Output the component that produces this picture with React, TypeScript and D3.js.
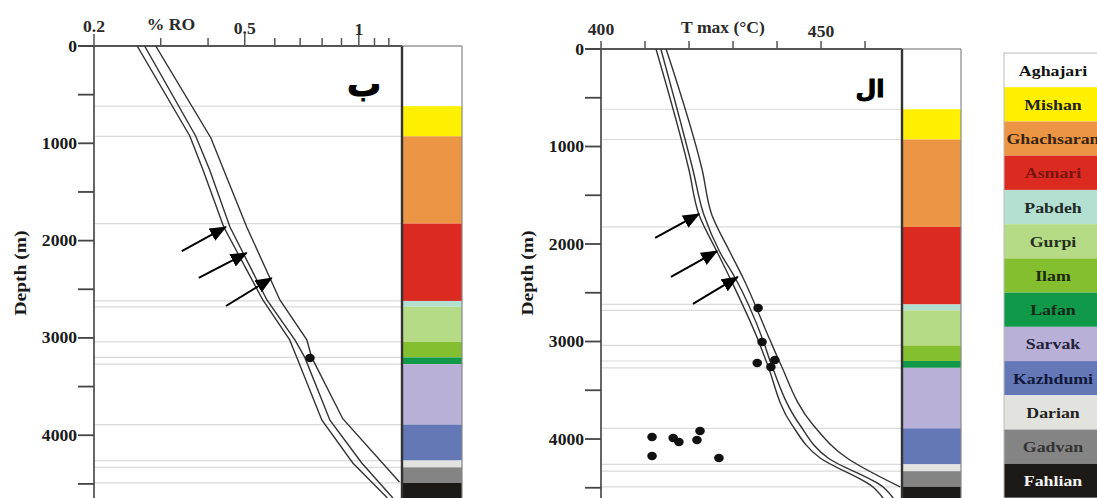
import React from "react";
import * as d3 from "d3";

// formations (column + legend)
const formations = ["Aghajari", "Mishan", "Ghachsaran", "Asmari", "Pabdeh", "Gurpi", "Ilam", "Lafan", "Sarvak", "Kazhdumi", "Darian", "Gadvan", "Fahlian"];
const formationTops = [0, 618, 928, 1825, 2620, 2680, 3040, 3200, 3270, 3890, 4260, 4330, 4490];
const formationColors = ["#ffffff", "#fff000", "#ec9645", "#dc2a21", "#b4e0d2", "#b6db86", "#84bf30", "#11994a", "#b8b0d6", "#6478b8", "#e2e3df", "#848484", "#1d1917"];
const formationTextColors = ["#111", "#222", "#3a2410", "#7a1410", "#1e2a26", "#24301a", "#1c2a0a", "#0e2a16", "#23203a", "#12183a", "#222", "#333", "#f4f4f4"];

// % Ro model curves (three envelope lines)
const roDepthA = [0, 925, 1275, 1860, 2610, 3020, 3200, 3845, 4285, 4645];
const roLow = [0.26, 0.358, 0.388, 0.44, 0.558, 0.657, 0.686, 0.799, 0.964, 1.19];
const roMid = [0.272, 0.371, 0.404, 0.457, 0.572, 0.678, 0.72, 0.839, 1.018, 1.23];
const roDepthB = [0, 945, 1275, 1860, 2610, 3020, 3200, 3830, 4480];
const roHigh = [0.291, 0.407, 0.44, 0.506, 0.619, 0.729, 0.751, 0.907, 1.28];
const roSampleDepth = [3206];
const roSample = [0.743];
const roArrowTail = [[0.341, 2107], [0.378, 2384], [0.446, 2672]];
const roArrowTip = [[0.446, 1860], [0.506, 2127], [0.589, 2384]];

// Tmax model curves
const tDepth = [0, 1241, 1703, 2082, 2349, 2985, 3221, 3856, 4195, 4492, 4605];
const tLow = [412.5, 420.0, 422.3, 426.4, 429.3, 435.7, 437.7, 443.4, 449.8, 461.8, 464.1];
const tMid = [413.6, 420.9, 423.4, 427.0, 430.5, 436.8, 438.6, 445.2, 451.6, 464.1, 466.4];
const tDepthB = [0, 1241, 1703, 2082, 2349, 2985, 3221, 3856, 4195, 4492];
const tHigh = [414.8, 423.0, 425.2, 429.3, 432.3, 438.4, 440.7, 448.2, 455.9, 468.0];
const tSampleDepth = [2656, 3005, 3221, 3190, 3262, 3979, 4174, 3990, 4031, 4010, 3918, 4195];
const tSample = [435.7, 436.6, 435.5, 439.5, 438.6, 411.6, 411.6, 416.4, 417.7, 421.8, 422.5, 426.8];
const tArrowTail = [[412.3, 1938], [415.9, 2338], [420.9, 2615]];
const tArrowTip = [[422.3, 1692], [426.4, 2072], [431.1, 2338]];

const roTicks = [0.2, 0.3, 0.4, 0.5, 0.6, 0.7, 0.8, 0.9, 1, 1.1, 1.2];
const roTickLabels = [0.2, 0.5, 1];
const tTicks = [400, 410, 420, 430, 440, 450, 460];
const tTickLabels = [400, 450];
const depthTicks = [0, 500, 1000, 1500, 2000, 2500, 3000, 3500, 4000, 4500];
const depthLabels = [0, 1000, 2000, 3000, 4000];

const W = 1097;
const H = 498;
const serif = "'Liberation Serif', 'Times New Roman', serif";

type PanelProps = {
  id: string;
  x: any;
  y: d3.ScaleLinear<number, number>;
  left: number;
  right: number;
  colRight: number;
  top: number;
  ticks: number[];
  tickLabels: number[];
  majorTicks: number[];
  title: string;
  titleX: number;
  lines: [number, number][][];
  curve: d3.CurveFactory;
  dots: [number, number][];
  tails: number[][];
  tips: number[][];
  letter: string;
  letterX: number;
  letterY: number;
  letterSize: number;
};

function Label({ x, y, children, anchor = "middle", size = 16, fill = "#1a1a1a", rotate = 0, sx = 1.1 }: any) {
  return (
    <text
      transform={`translate(${x},${y}) rotate(${rotate}) scale(${sx},1)`}
      textAnchor={anchor}
      fontFamily={serif}
      fontWeight="bold"
      fontSize={size}
      fill={fill}
    >
      {children}
    </text>
  );
}

function Panel(p: PanelProps) {
  const { x, y, left, right, colRight, top } = p;
  const line = d3
    .line<[number, number]>()
    .x((d) => x(d[0]))
    .y((d) => y(d[1]))
    .curve(p.curve);
  return (
    <g>
      <defs>
        <clipPath id={"clip-" + p.id}>
          <rect x={left} y={top} width={right - left} height={H - top} />
        </clipPath>
        <marker id={"arr-" + p.id} markerUnits="userSpaceOnUse" markerWidth={18} markerHeight={16} refX={16} refY={7} orient="auto">
          <path d="M0,0 L17,7 L0,14 Z" fill="#000" />
        </marker>
      </defs>

      {/* formation boundaries */}
      {formationTops.slice(1).map((d) => (
        <line key={"b" + d} x1={left} x2={right} y1={y(d)} y2={y(d)} stroke="#dadada" strokeWidth={1.2} />
      ))}

      {/* formation column */}
      {formationTops.map((d, i) => {
        const y0 = y(d);
        const y1 = i + 1 < formationTops.length ? y(formationTops[i + 1]) : H;
        return <rect key={"c" + i} x={right} y={y0} width={colRight - right} height={y1 - y0} fill={formationColors[i]} />;
      })}
      <line x1={right} x2={colRight} y1={top} y2={top} stroke="#999" strokeWidth={1.5} />
      <line x1={colRight} x2={colRight} y1={top} y2={H} stroke="#888" strokeWidth={1.2} />
      <line x1={right} x2={right} y1={top} y2={H} stroke="#333" strokeWidth={2.4} />

      {/* axes */}
      <line x1={left - 16} x2={right} y1={top} y2={top} stroke="#555" strokeWidth={1.8} />
      <line x1={left} x2={left} y1={top} y2={H} stroke="#555" strokeWidth={1.8} />
      {depthTicks.map((d) => (
        <line key={"yt" + d} x1={left - 16} x2={left} y1={y(d)} y2={y(d)} stroke="#444" strokeWidth={1.8} />
      ))}
      {depthLabels.map((d) => (
        <Label key={"yl" + d} x={left - 17} y={y(d) + 5.5} anchor="end">
          {d}
        </Label>
      ))}
      <Label x={left - 68} y={273} rotate={-90} size={16} sx={1.22}>
        Depth (m)
      </Label>
      {p.ticks.map((t) => (
        <line key={"xt" + t} x1={x(t)} x2={x(t)} y1={top} y2={top - (p.majorTicks.includes(t) ? 12 : 8)} stroke="#555" strokeWidth={1.5} />
      ))}
      {p.tickLabels.map((t, i) => (
        <Label key={"xl" + t} x={x(t)} y={top - 14 + i * 1.5} fill="#2a2a2a">
          {String(t)}
        </Label>
      ))}
      <Label x={p.titleX} y={top - 16} fill="#2a2a2a">
        {p.title}
      </Label>

      {/* model curves */}
      <g clipPath={`url(#clip-${p.id})`}>
        {p.lines.map((pts, i) => (
          <path key={"l" + i} d={line(pts) || ""} fill="none" stroke="#333" strokeWidth={1.4} />
        ))}
      </g>

      {/* measured samples */}
      {p.dots.map((d, i) => (
        <ellipse key={"d" + i} cx={x(d[0])} cy={y(d[1])} rx={4.8} ry={4.2} fill="#111" />
      ))}

      {/* arrows */}
      {p.tails.map((t, i) => (
        <line key={"a" + i} x1={x(t[0])} y1={y(t[1])} x2={x(p.tips[i][0])} y2={y(p.tips[i][1])} stroke="#000" strokeWidth={2} markerEnd={`url(#arr-${p.id})`} />
      ))}

      <text
        x={p.letterX}
        y={p.letterY}
        textAnchor="middle"
        fontFamily="'DejaVu Sans', sans-serif"
        fontWeight="bold"
        fontSize={p.letterSize}
        fill="#000"
        stroke="#000"
        strokeWidth={1}
      >
        {p.letter}
      </text>
    </g>
  );
}

const zip = (a: number[], b: number[]): [number, number][] => a.map((v, i) => [v, b[i]]);

export default function App() {
  const roX = d3.scaleLog().domain([0.2, 1.3]).range([94, 402]);
  const roY = d3.scaleLinear().domain([0, 4645]).range([46, 498]);
  const tX = d3.scaleLinear().domain([400, 468.4]).range([601, 902]);
  const tY = d3.scaleLinear().domain([0, 4605]).range([49, 498]);

  const rowH = (H - 53) / formations.length;

  return (
    <div style={{ position: "absolute", left: 0, top: 0 }}>
      <svg width={W} height={H} style={{ display: "block", background: "#fff" }}>
        <Panel
          id="ro"
          x={roX}
          y={roY}
          left={94}
          right={402}
          colRight={462}
          top={46}
          ticks={roTicks}
          tickLabels={roTickLabels}
          majorTicks={roTickLabels}
          title="% RO"
          titleX={171}
          lines={[zip(roLow, roDepthA), zip(roMid, roDepthA), zip(roHigh, roDepthB)]}
          curve={d3.curveLinear}
          dots={zip(roSample, roSampleDepth)}
          tails={roArrowTail}
          tips={roArrowTip}
          letter="ب"
          letterX={364}
          letterY={96}
          letterSize={34}
        />
        <Panel
          id="tmax"
          x={tX}
          y={tY}
          left={601}
          right={902}
          colRight={961}
          top={49}
          ticks={tTicks}
          tickLabels={tTickLabels}
          majorTicks={[]}
          title="T max (°C)"
          titleX={723}
          lines={[zip(tLow, tDepth), zip(tMid, tDepth), zip(tHigh, tDepthB)]}
          curve={d3.curveMonotoneY}
          dots={zip(tSample, tSampleDepth)}
          tails={tArrowTail}
          tips={tArrowTip}
          letter="ال"
          letterX={870}
          letterY={97}
          letterSize={24}
        />

        {/* legend */}
        <g>
          {formations.map((f, i) => {
            const y0 = 53 + i * rowH;
            return (
              <g key={f}>
                <rect x={1004} y={y0} width={110} height={rowH} fill={formationColors[i]} />
                <Label x={1053} y={y0 + rowH / 2 + 5.5} size={15.5} sx={1.15} fill={formationTextColors[i]}>
                  {f}
                </Label>
              </g>
            );
          })}
          <rect x={1004} y={53} width={110} height={H - 53} fill="none" stroke="#bbb" strokeWidth={1} />
        </g>
      </svg>
    </div>
  );
}
